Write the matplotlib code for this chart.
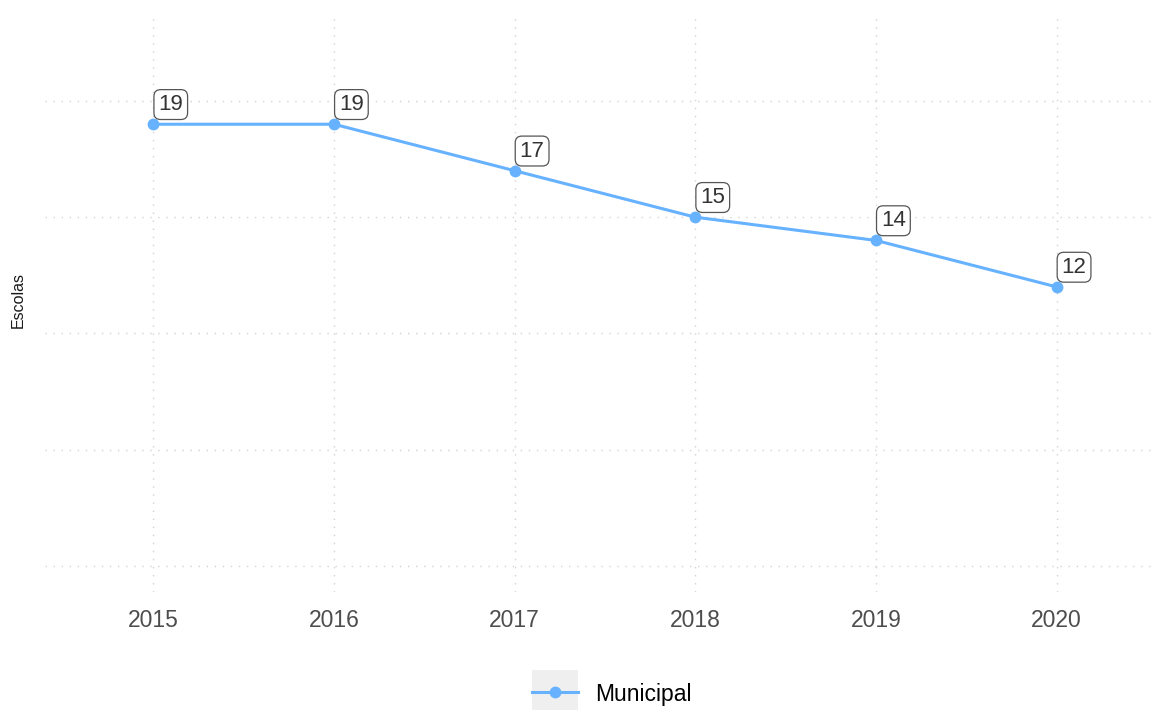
import matplotlib
matplotlib.use("Agg")
import matplotlib.pyplot as plt
from matplotlib.legend_handler import HandlerLine2D
from matplotlib.patches import Rectangle
from matplotlib.lines import Line2D

# Number of municipal schools per year
years = [2015, 2016, 2017, 2018, 2019, 2020]
escolas = [19, 19, 17, 15, 14, 12]
series_name = "Municipal"
y_label = "Escolas"
y_grid = [0, 5, 10, 15, 20]

LINE_COLOR = "#66B2FF"
GRID_COLOR = "#D2D2D2"
FONT = ["Liberation Sans", "DejaVu Sans"]

plt.rcParams["font.family"] = FONT


class KeyBoxHandler(HandlerLine2D):
    """Line + marker legend key drawn on a light grey square."""

    def create_artists(self, legend, orig_handle, xdescent, ydescent,
                       width, height, fontsize, trans):
        side = width
        cy = -ydescent + height / 2
        bg = Rectangle((-xdescent, cy - side / 2), side, side,
                       facecolor="#EFEFEF", edgecolor="none", transform=trans)
        arts = super().create_artists(legend, orig_handle, xdescent, ydescent,
                                      width, height, fontsize, trans)
        return [bg] + list(arts)


fig = plt.figure(figsize=(11.57, 7.10), dpi=100)
ax = fig.add_axes([45 / 1157, 118 / 710, 1120 / 1157, 580 / 710])

ax.plot(years, escolas, color=LINE_COLOR, lw=2.2, marker="o", ms=8.5,
        markeredgewidth=0, zorder=3, label=series_name, clip_on=False)

for x, y in zip(years, escolas):
    ax.annotate(str(y), xy=(x, y), xytext=(3.6, 6.6), textcoords="offset points",
                ha="left", va="bottom", fontsize=16, color="#333333",
                bbox=dict(boxstyle="round,pad=0.2,rounding_size=0.3",
                          facecolor="white", edgecolor="#555555", lw=0.9),
                zorder=4)

ax.set_xlim(2014.4, 2020.6)
ax.set_ylim(-1.13, 23.83)
ax.set_xticks(years)
ax.set_xticklabels([str(y) for y in years])
ax.set_yticks(y_grid)
ax.tick_params(axis="both", length=0)
ax.tick_params(axis="x", pad=12, labelsize=16.5, labelcolor="#4D4D4D")
ax.tick_params(axis="y", labelleft=False)
ax.grid(True, color=GRID_COLOR, lw=1.0, linestyle=(0, (1, 4.8)))
ax.set_axisbelow(True)
for s in ax.spines.values():
    s.set_visible(False)

fig.text(18 / 1157, 1 - 300 / 710, y_label, rotation=90, ha="center",
         va="center", fontsize=11.5, color="#1A1A1A")

handles, labels = ax.get_legend_handles_labels()
fig.legend(handles, labels, loc="center", bbox_to_anchor=(0.529, 1 - 694 / 710),
           frameon=False, fontsize=16.5, handlelength=2.0, handletextpad=0.75,
           handler_map={Line2D: KeyBoxHandler()})

fig.savefig("out.png", dpi=100, facecolor="white")
